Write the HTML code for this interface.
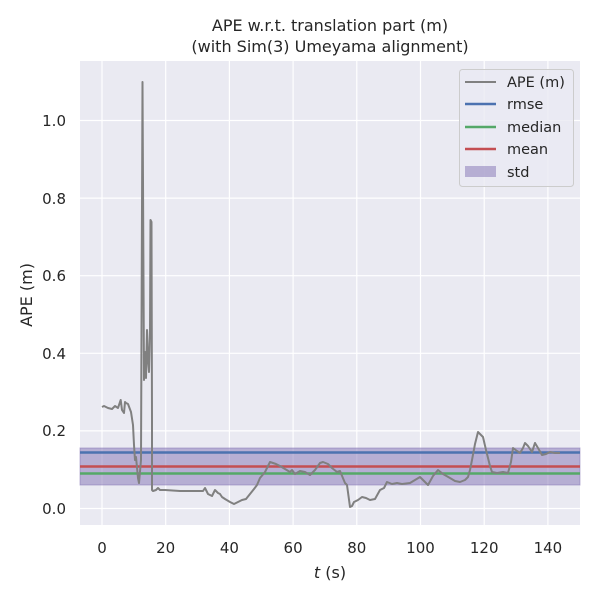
<!DOCTYPE html>
<html><head><meta charset="utf-8"><style>
body{margin:0;background:#fff}
svg text{font-family:"DejaVu Sans","Liberation Sans",sans-serif;fill:#262626}
</style></head><body>
<svg width="600" height="600" viewBox="0 0 600 600" xmlns="http://www.w3.org/2000/svg">
<rect x="0" y="0" width="600" height="600" fill="#fff"/>
<rect x="80" y="61" width="500" height="464" fill="#eaeaf2"/>
<g stroke="#fff" stroke-width="1.2">
<line x1="102" y1="61" x2="102" y2="525"/><line x1="165.7" y1="61" x2="165.7" y2="525"/><line x1="229.4" y1="61" x2="229.4" y2="525"/><line x1="293.1" y1="61" x2="293.1" y2="525"/><line x1="356.8" y1="61" x2="356.8" y2="525"/><line x1="420.5" y1="61" x2="420.5" y2="525"/><line x1="484.2" y1="61" x2="484.2" y2="525"/><line x1="547.9" y1="61" x2="547.9" y2="525"/>
<line x1="80" y1="508.5" x2="580" y2="508.5"/><line x1="80" y1="430.9" x2="580" y2="430.9"/><line x1="80" y1="353.3" x2="580" y2="353.3"/><line x1="80" y1="275.7" x2="580" y2="275.7"/><line x1="80" y1="198.1" x2="580" y2="198.1"/><line x1="80" y1="120.5" x2="580" y2="120.5"/>
</g>
<rect x="80" y="448" width="500" height="37" fill="#8172b3" fill-opacity="0.5" stroke="#8172b3" stroke-opacity="0.5"/>
<line x1="80" y1="452.5" x2="580" y2="452.5" stroke="#4c72b0" stroke-width="2.5"/>
<line x1="80" y1="466.5" x2="580" y2="466.5" stroke="#c44e52" stroke-width="2.5"/>
<line x1="80" y1="473.5" x2="580" y2="473.5" stroke="#55a868" stroke-width="2.5"/>
<polyline fill="none" stroke="#808080" stroke-width="2" stroke-linejoin="round" points="102,407 104,406 108,408 112,409 115,406 118,408 120.7,400 122,410 124,413 125,402 126,403 128,404 131,412 133,425 134,445 135,460 136,457 138,478 139,483 141,460 142.5,82 144,380 145,352 146,378 147,330 148,360 149,372 150,330 150.5,220 151.5,222 152,420 152,490 153,491 156,490 158,488 160,490 165,490 180,491 200,491 203,491 205,488 208,494 212,496 215,490 218,493 220,494 222,497 225,499 230,502 234,504 238,502 242,500 246,499 250,494 254,489 257,485 260,478 265,472 270,462 276,464 280,466 285,469 290,472 292,470 295,474 300,471 305,472 310,475 315,470 320,463 323,462 328,464 332,468 337,472 340,471 345,483 347,485 350,507 352,506 354,502 358,500 362,497 366,498 370,500 375,499 380,490 384,488 387,482 392,484 397,483 402,484 410,483 415,480 420,477 425,482 428,485 433,476 438,470 443,474 450,478 455,481 460,482 465,480 468,477 470,470 472,460 475,444 478,432 483,437 486,450 490,466 492,472 497,473 503,472 508,473 511,462 513,448 517,451 520,453 523,448 525,443 528,446 532,452 535,443 538,448 542,455 546,454 550,452 555,453 560,453"/>
<g font-size="15" text-anchor="middle">
<text x="102" y="553">0</text><text x="165.7" y="553">20</text><text x="229.4" y="553">40</text><text x="293.1" y="553">60</text><text x="356.8" y="553">80</text><text x="420.5" y="553">100</text><text x="484.2" y="553">120</text><text x="547.9" y="553">140</text>
</g>
<g font-size="15" text-anchor="end">
<text x="66" y="514">0.0</text><text x="66" y="436">0.2</text><text x="66" y="359">0.4</text><text x="66" y="281">0.6</text><text x="66" y="204">0.8</text><text x="66" y="126">1.0</text>
</g>
<text x="330" y="578" font-size="16" text-anchor="middle"><tspan font-style="italic">t</tspan> (s)</text>
<text transform="translate(32,295) rotate(-90)" font-size="16" text-anchor="middle">APE (m)</text>
<text x="330" y="31" font-size="16" text-anchor="middle">APE w.r.t. translation part (m)</text>
<text x="330" y="52" font-size="16" text-anchor="middle">(with Sim(3) Umeyama alignment)</text>
<rect x="459.5" y="69.5" width="114" height="117" rx="3" fill="#eaeaf2" fill-opacity="0.8" stroke="#ccc"/>
<line x1="465" y1="82" x2="496" y2="82" stroke="#808080" stroke-width="2"/>
<line x1="465" y1="104" x2="496" y2="104" stroke="#4c72b0" stroke-width="2.5"/>
<line x1="465" y1="127" x2="496" y2="127" stroke="#55a868" stroke-width="2.5"/>
<line x1="465" y1="149" x2="496" y2="149" stroke="#c44e52" stroke-width="2.5"/>
<rect x="465" y="166" width="31" height="11" fill="#8172b3" fill-opacity="0.5"/>
<g font-size="14.5">
<text x="507" y="87">APE (m)</text><text x="507" y="109">rmse</text><text x="507" y="132">median</text><text x="507" y="154">mean</text><text x="507" y="177">std</text>
</g>
</svg>
</body></html>
